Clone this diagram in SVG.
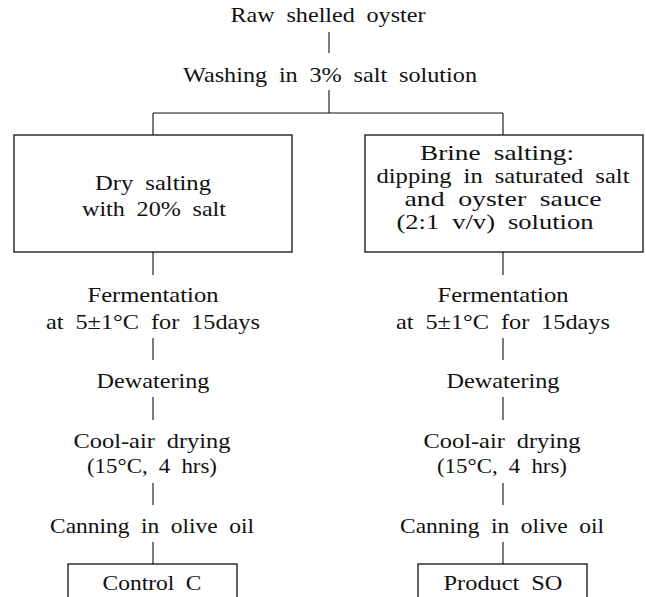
<svg xmlns="http://www.w3.org/2000/svg" width="646" height="597" viewBox="0 0 646 597">
<style>
text{font-family:"Liberation Serif","DejaVu Serif",serif;font-size:21px;fill:#111;text-anchor:middle;word-spacing:5px}
.box{fill:#fff;stroke:#111;stroke-width:1.3}
.ln{stroke:#111;stroke-width:1.1;fill:none}
</style>
<rect width="646" height="597" fill="#fff"/>
<g id="connectors">
<path class="ln" d="M329,32V53"/>
<path class="ln" d="M329,90V113M153,113H503M153,113V135M503,113V135"/>
<path class="ln" d="M153,252V275M503,252V275"/>
<path class="ln" d="M153,338V360M503,338V360"/>
<path class="ln" d="M153,397V420M503,397V420"/>
<path class="ln" d="M153,483V505M503,483V505"/>
<path class="ln" d="M153,542V564M503,542V564"/>
</g>
<g id="raw"><text x="328" y="22" textLength="195" lengthAdjust="spacingAndGlyphs">Raw shelled oyster</text></g>
<g id="washing"><text x="330" y="82" textLength="294" lengthAdjust="spacingAndGlyphs">Washing in 3% salt solution</text></g>
<g id="dry">
<rect class="box" x="14" y="135" width="278" height="117"/>
<text x="153" y="190" textLength="116" lengthAdjust="spacingAndGlyphs">Dry salting</text>
<text x="154" y="216" textLength="144" lengthAdjust="spacingAndGlyphs">with 20% salt</text>
</g>
<g id="brine">
<rect class="box" x="365" y="135" width="278" height="117"/>
<text x="497" y="160" textLength="154" lengthAdjust="spacingAndGlyphs">Brine salting:</text>
<text x="503" y="183" textLength="253" lengthAdjust="spacingAndGlyphs">dipping in saturated salt</text>
<text x="503" y="206" textLength="197" lengthAdjust="spacingAndGlyphs">and oyster sauce</text>
<text x="495" y="229" textLength="197" lengthAdjust="spacingAndGlyphs">(2:1 v/v) solution</text>
</g>
<g id="ferm-l">
<text x="153" y="302" textLength="131" lengthAdjust="spacingAndGlyphs">Fermentation</text>
<text x="153" y="329" textLength="214" lengthAdjust="spacingAndGlyphs">at 5±1°C for 15days</text>
</g>
<g id="ferm-r">
<text x="503" y="302" textLength="131" lengthAdjust="spacingAndGlyphs">Fermentation</text>
<text x="503" y="329" textLength="214" lengthAdjust="spacingAndGlyphs">at 5±1°C for 15days</text>
</g>
<g id="dew-l"><text x="153" y="388" textLength="113" lengthAdjust="spacingAndGlyphs">Dewatering</text></g>
<g id="dew-r"><text x="503" y="388" textLength="113" lengthAdjust="spacingAndGlyphs">Dewatering</text></g>
<g id="cool-l">
<text x="152" y="448" textLength="157" lengthAdjust="spacingAndGlyphs">Cool-air drying</text>
<text x="152" y="473" textLength="130" lengthAdjust="spacingAndGlyphs">(15°C, 4 hrs)</text>
</g>
<g id="cool-r">
<text x="502" y="448" textLength="157" lengthAdjust="spacingAndGlyphs">Cool-air drying</text>
<text x="502" y="473" textLength="130" lengthAdjust="spacingAndGlyphs">(15°C, 4 hrs)</text>
</g>
<g id="can-l"><text x="152" y="533" textLength="204" lengthAdjust="spacingAndGlyphs">Canning in olive oil</text></g>
<g id="can-r"><text x="502" y="533" textLength="204" lengthAdjust="spacingAndGlyphs">Canning in olive oil</text></g>
<g id="control">
<rect class="box" x="68" y="564" width="169" height="50"/>
<text x="152" y="590" textLength="99" lengthAdjust="spacingAndGlyphs">Control C</text>
</g>
<g id="product">
<rect class="box" x="418" y="564" width="169" height="50"/>
<text x="503" y="590" textLength="119" lengthAdjust="spacingAndGlyphs">Product SO</text>
</g>
</svg>
